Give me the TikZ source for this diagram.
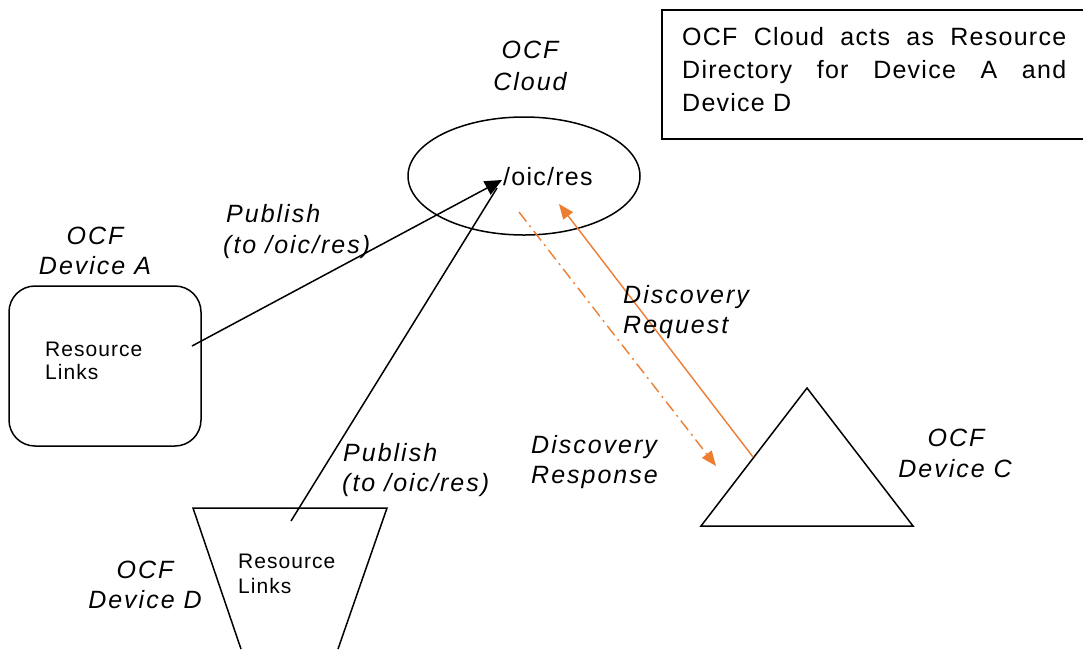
\documentclass[tikz,border=0pt]{standalone}
\usepackage{fontspec}
\setmainfont{Liberation Sans}
\newfontfamily\lsfont[LetterSpace=5]{Liberation Sans}
\newfontfamily\lsifont[LetterSpace=8]{Liberation Sans}
\usetikzlibrary{arrows.meta,shapes.geometric}
\definecolor{ocforange}{HTML}{ED7D31}
\begin{document}
\begin{tikzpicture}[x=1pt,y=-1pt,
  outl/.style={draw=black,line width=1.5pt},
  lbl/.style={inner sep=0pt,anchor=base,font=\lsifont\fontsize{25}{30}\selectfont\itshape},
  lblw/.style={lbl,anchor=base west},
  small/.style={inner sep=0pt,anchor=base west,font=\lsfont\fontsize{21}{25}\selectfont},
  boxtext/.style={inner sep=0pt,anchor=base west,font=\lsfont\fontsize{25}{30}\selectfont},
  pub/.style={line width=1.5pt,draw=black},
  disc/.style={line width=1.4pt,draw=ocforange},
  bigtip/.style={-{Triangle[length=17pt,width=15pt]}},
  orangetip/.style={-{Triangle[length=15pt,width=12pt]}}]
\useasboundingbox (0,0) rectangle (1083,649);
\clip (0,0) rectangle (1083,649);

% info box
\node[outl,rectangle,minimum width=430pt,minimum height=129pt,anchor=north west,inner sep=0pt] (info) at (661,9) {};
\node[boxtext] (info1) at (682,45) {\makebox[384pt][s]{OCF Cloud acts as Resource}};
\node[boxtext] (info2) at (682,78) {\makebox[384pt][s]{Directory for Device A and}};
\node[boxtext] (info3) at (682,111) {Device D};

% cloud
\node[outl,ellipse,minimum width=232pt,minimum height=118pt,inner sep=0pt] (cloud) at (524,176) {};
\node[lbl] (cloudl1) at (530,58) {OCF};
\node[lbl] (cloudl2) at (530,90) {Cloud};
\node[inner sep=0pt,anchor=base west,font=\lsfont\fontsize{25}{30}\selectfont] (res) at (503,185) {/oic/res};

% device A
\node[outl,rectangle,rounded corners=26pt,minimum width=192pt,minimum height=160pt,inner sep=0pt] (devA) at (105,366) {};
\node[lbl] (al1) at (95,244) {OCF};
\node[lbl] (al2) at (95,274) {Device A};
\node[small] (ar1) at (45,356) {Resource};
\node[small] (ar2) at (45,379) {Links};

% device D (trapezoid)
\coordinate (dtl) at (193,508);
\coordinate (dtr) at (387,508);
\coordinate (dbr) at (338,649);
\coordinate (dbl) at (241,649);
\draw[outl,line join=miter] (dbl) -- (dtl) -- (dtr) -- (dbr);
\node[small] (dr1) at (238,568) {Resource};
\node[small] (dr2) at (238,593) {Links};
\node[lbl] (dl1) at (145,578) {OCF};
\node[lbl] (dl2) at (145,608) {Device D};

% device C (triangle)
\coordinate (ctop) at (807,388);
\coordinate (cbl) at (701,526);
\coordinate (cbr) at (913,526);
\draw[outl,line join=miter] (ctop) -- (cbr) -- (cbl) -- cycle;
\node[lbl] (cl1) at (956,446) {OCF};
\node[lbl] (cl2) at (955,477) {Device C};

% connectors
\coordinate (aout) at (192,346);
\coordinate (cin) at (502,180);
\coordinate (dout) at (291,521);
\coordinate (din) at (497,188);
\coordinate (cout) at (753,457);
\coordinate (reqtip) at (559,204);
\coordinate (respstart) at (519,212);
\coordinate (resptip) at (716,466);

\draw[pub] (dout) -- (din);
\draw[pub,bigtip] (aout) -- (cin);
\draw[disc,orangetip] (cout) -- (reqtip);
\draw[disc,orangetip,dash pattern=on 12pt off 5pt on 2pt off 5pt] (respstart) -- (resptip);

\node[lblw] (p1a) at (226,222) {Publish};
\node[lblw] (p1b) at (223,253) {(to /oic/res)};
\node[lblw] (p2a) at (343,461) {Publish};
\node[lblw] (p2b) at (342,491) {(to /oic/res)};
\node[lblw] (q1) at (623,303) {Discovery};
\node[lblw] (q2) at (623,333) {Request};
\node[lblw] (r1) at (531,453) {Discovery};
\node[lblw] (r2) at (531,483) {Response};
\end{tikzpicture}
\end{document}
